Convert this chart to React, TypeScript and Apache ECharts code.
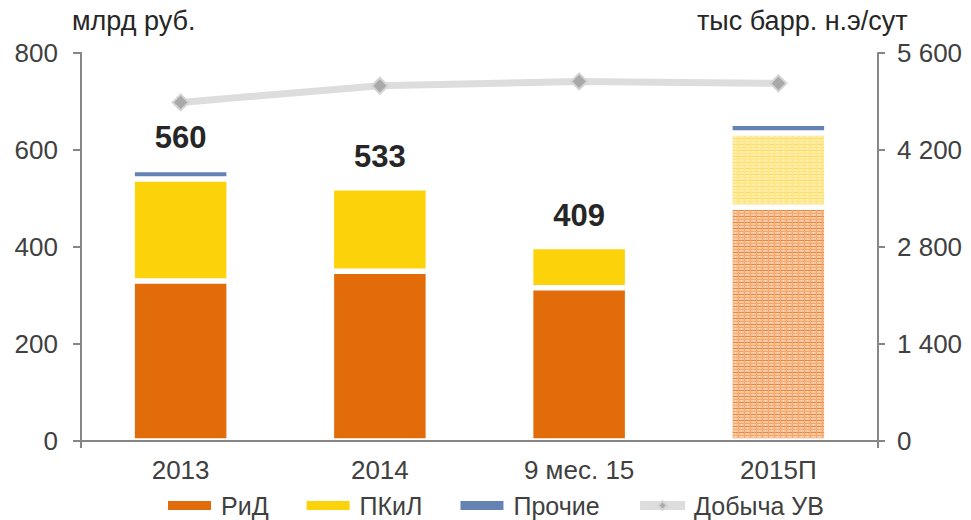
import React, { useEffect, useRef } from "react";
import * as echarts from "echarts";

const categories = ["2013", "2014", "9 мес. 15", "2015П"];
const ridValues = [330, 350, 316, 482];
const pkilValues = [210, 172, 85, 153];
const otherValues = [20, 0, 0, 20];
const totalLabels: (number | null)[] = [560, 533, 409, null];
const productionValues = [4887, 5127, 5190, 5162];
const leftTicks = { min: 0, max: 800, interval: 200 };
const rightTicks = { min: 0, max: 5600, interval: 1400 };
const forecastIndex = 3;

const FONT = "'Liberation Sans', Arial, sans-serif";
const TEXT = "#404040";
const AXIS = "#868686";

function makeTile(base: string, line1: string, line2: string, dot: string) {
  const c = document.createElement("canvas");
  c.width = 6;
  c.height = 6;
  const ctx = c.getContext("2d")!;
  ctx.fillStyle = base;
  ctx.fillRect(0, 0, 6, 6);
  ctx.fillStyle = line1;
  ctx.fillRect(0, 0, 6, 1);
  ctx.fillStyle = line2;
  ctx.fillRect(0, 3, 6, 1);
  ctx.fillRect(0, 0, 1, 6);
  ctx.fillStyle = dot;
  ctx.fillRect(3, 1, 1, 1);
  ctx.fillRect(3, 4, 1, 1);
  return c;
}

function fmtSpace(v: number) {
  return String(v).replace(/\B(?=(\d{3})+(?!\d))/g, " ");
}

export default function App() {
  const ref = useRef<HTMLDivElement>(null);
  useEffect(() => {
    if (!ref.current) return;
    const chart = echarts.init(ref.current, undefined, { renderer: "svg" });

    const orangeTile = makeTile("#F7C49B", "#EB8840", "#F2A86E", "#FCE6D4");
    const yellowTile = makeTile("#FEEC9C", "#FDDD66", "#FEE58A", "#FFF8D8");
    const orangePattern: any = { image: orangeTile, repeat: "repeat", imageWidth: 6, imageHeight: 6 };
    const yellowPattern: any = { image: yellowTile, repeat: "repeat", imageWidth: 6, imageHeight: 6 };

    const seriesVals = [ridValues, pkilValues, otherValues];
    const topIdx = categories.map((_, i) => {
      let t = -1;
      seriesVals.forEach((arr, s) => {
        if (arr[i] > 0) t = s;
      });
      return t;
    });

    const makeData = (arr: number[], s: number, pattern: any) =>
      arr.map((v, i) => {
        const item: any = { value: v > 0 ? v : "-" };
        if (i === forecastIndex && pattern) item.itemStyle = { color: pattern };
        if (topIdx[i] === s && totalLabels[i] != null) {
          item.label = {
            show: true,
            position: "top",
            distance: 16,
            formatter: String(totalLabels[i]),
            fontFamily: FONT,
            fontSize: 31,
            fontWeight: "bold",
            color: "#262626",
          };
        }
        return item;
      });

    const barCommon = {
      type: "bar",
      stack: "total",
      barWidth: 97,
      itemStyle: { borderColor: "#ffffff", borderWidth: 2.75 },
    };

    chart.setOption({
      animation: false,
      textStyle: { fontFamily: FONT },
      grid: { left: 81, right: 93, top: 53, bottom: 79, containLabel: false },
      legend: {
        left: 166,
        top: 493,
        padding: 0,
        itemWidth: 45,
        itemHeight: 11,
        itemGap: 36,
        textStyle: {
          fontFamily: FONT,
          fontSize: 25,
          lineHeight: 25,
          color: TEXT,
          padding: [0, 0, 0, 4],
        },
        data: [
          { name: "РиД", icon: "rect" },
          { name: "ПКиЛ", icon: "rect" },
          { name: "Прочие", icon: "rect" },
          { name: "Добыча УВ", lineStyle: { width: 9, color: "#DDDDDD" } },
        ],
      },
      graphic: [
        {
          type: "text",
          left: 72,
          top: 7,
          style: { text: "млрд руб.", font: `27px ${FONT}`, fill: "#262626" },
        },
        {
          type: "text",
          left: 697,
          top: 7,
          style: { text: "тыс барр. н.э/сут", font: `27px ${FONT}`, fill: "#262626" },
        },
      ],
      xAxis: {
        type: "category",
        data: categories,
        z: 10,
        axisLine: { lineStyle: { color: AXIS, width: 2 } },
        axisTick: {
          show: true,
          length: 7,
          lineStyle: { color: AXIS, width: 2 },
          interval: (idx: number) => idx === 0,
        },
        axisLabel: { fontFamily: FONT, fontSize: 26, color: TEXT, margin: 16 },
      },
      yAxis: [
        {
          type: "value",
          ...leftTicks,
          position: "left",
          z: 10,
          splitLine: { show: false },
          axisLine: { show: true, lineStyle: { color: AXIS, width: 2 } },
          axisTick: { show: true, length: 8, lineStyle: { color: AXIS, width: 2 } },
          axisLabel: { fontFamily: FONT, fontSize: 26, color: TEXT, margin: 23 },
        },
        {
          type: "value",
          ...rightTicks,
          position: "right",
          z: 10,
          splitLine: { show: false },
          axisLine: { show: true, lineStyle: { color: AXIS, width: 2 } },
          axisTick: { show: true, length: 7, lineStyle: { color: AXIS, width: 2 } },
          axisLabel: {
            fontFamily: FONT,
            fontSize: 26,
            color: TEXT,
            margin: 19,
            formatter: (v: number) => fmtSpace(v),
          },
        },
      ],
      series: [
        {
          ...barCommon,
          name: "РиД",
          data: makeData(ridValues, 0, orangePattern),
          itemStyle: { ...barCommon.itemStyle, color: "#E36C0A" },
        },
        {
          ...barCommon,
          name: "ПКиЛ",
          data: makeData(pkilValues, 1, yellowPattern),
          itemStyle: { ...barCommon.itemStyle, color: "#FCD20A" },
        },
        {
          ...barCommon,
          name: "Прочие",
          data: makeData(otherValues, 2, null),
          itemStyle: { ...barCommon.itemStyle, color: "#6482B4" },
        },
        {
          type: "line",
          name: "Добыча УВ",
          yAxisIndex: 1,
          data: productionValues,
          symbol: "diamond",
          symbolSize: 16,
          z: 5,
          lineStyle: { color: "#DDDDDD", width: 7 },
          itemStyle: { color: "#A9A9A9", borderColor: "#D4D4D4", borderWidth: 2 },
        },
      ],
    });
    return () => chart.dispose();
  }, []);
  return (
    <div
      ref={ref}
      style={{ position: "fixed", left: 0, top: 0, width: 971, height: 520, background: "#fff" }}
    />
  );
}
